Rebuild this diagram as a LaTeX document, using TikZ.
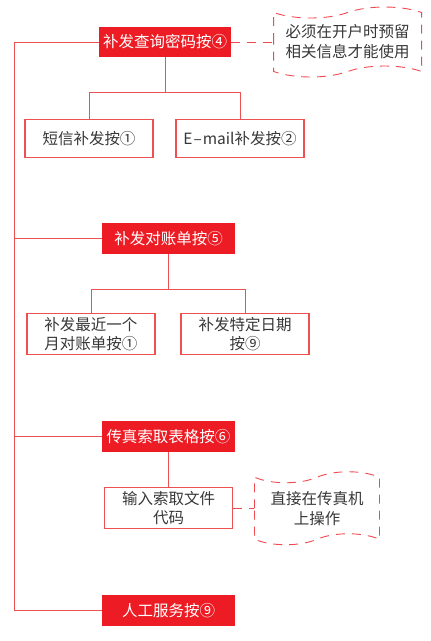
\documentclass[tikz,border=0pt]{standalone}
\usepackage{fontspec}
\setmainfont{Noto Sans CJK SC}
\usepackage{tikz}
\usetikzlibrary{positioning, calc, shapes.symbols}
\definecolor{keyred}{RGB}{237,28,36}
\definecolor{linered}{RGB}{236,80,80}
\definecolor{txtgray}{RGB}{55,55,55}
\tikzset{every node/.append style={align=center}}
\tikzset{
  cat/.style={rectangle, fill=keyred, text=white, minimum width=133pt,
    minimum height=31pt, inner sep=2pt, font=\fontsize{15.5}{19}\selectfont},
  sub/.style={rectangle, draw=linered, fill=white, line width=1.1pt, text=txtgray,
    minimum width=128pt, minimum height=38pt, inner sep=2pt,
    font=\fontsize{15.5}{19}\selectfont},
  note/.style={tape, draw=keyred!80, dashed, dash pattern=on 9pt off 7pt, line width=0.9pt,
    tape bend height=11pt, text=txtgray, inner sep=2pt,
    font=\fontsize{15.5}{20}\selectfont},
  link/.style={draw=linered, line width=1pt},
  hint/.style={draw=keyred!80, line width=0.9pt, dash pattern=on 9pt off 7pt}
}
\begin{document}
\begin{tikzpicture}[x=1pt, y=1pt]
  \useasboundingbox (0,0) rectangle (431,-641);
  % main keys
  \node[cat, minimum width=132pt, minimum height=30pt] (pwd) at (165,-42) {补发查询密码按④};
  \node[cat] (bill) at (168.5,-238.5) {补发对账单按⑤};
  \node[cat] (fax) at (168.5,-436.5) {传真索取表格按⑥};
  \node[cat] (svc) at (168.5,-610.5) {人工服务按⑨};
  % sub keys
  \node[sub, below=62pt of pwd, xshift=-76pt] (sms) {短信补发按①};
  \node[sub, below=62pt of pwd, xshift=75pt] (mail) {E{\kern1pt}–{\kern1pt}mail补发按②};
  \node[sub, minimum height=41pt, below=59pt of bill, xshift=-77.5pt] (recent) {补发最近一个\\月对账单按①};
  \node[sub, minimum height=41pt, below=59pt of bill, xshift=76.5pt] (date) {补发特定日期\\按⑨};
  \node[sub, minimum height=41pt, below=35pt of fax] (code) {输入索取文件\\代码};
  % notes
  \node[note, minimum width=148pt, minimum height=70pt, right=42pt of pwd] (pre) {必须在开户时预留\\相关信息才能使用};
  \node[note, minimum width=125pt, minimum height=73pt, right=21pt of code] (dev) {直接在传真机\\上操作};
  % trunk
  \coordinate (trunk) at (14,0);
  \draw[link] (pwd.west) -- (pwd.west -| trunk) -- (svc.west -| trunk) -- (svc.west);
  \draw[link] (bill.west) -- (bill.west -| trunk);
  \draw[link] (fax.west) -- (fax.west -| trunk);
  % branches
  \coordinate (f1) at ($(pwd.south)+(0,-35pt)$);
  \draw[link] (pwd.south) -- (f1) -| (sms.north);
  \draw[link] (f1) -| (mail.north);
  \coordinate (f2) at ($(bill.south)+(0,-35pt)$);
  \draw[link] (bill.south) -- (f2) -| (recent.north);
  \draw[link] (f2) -| (date.north);
  \draw[link] (fax.south) -- (code.north);
  \draw[hint] (pwd.east) -- (pre.west);
  \draw[hint] (code.east) -- (dev.west);
\end{tikzpicture}
\end{document}
